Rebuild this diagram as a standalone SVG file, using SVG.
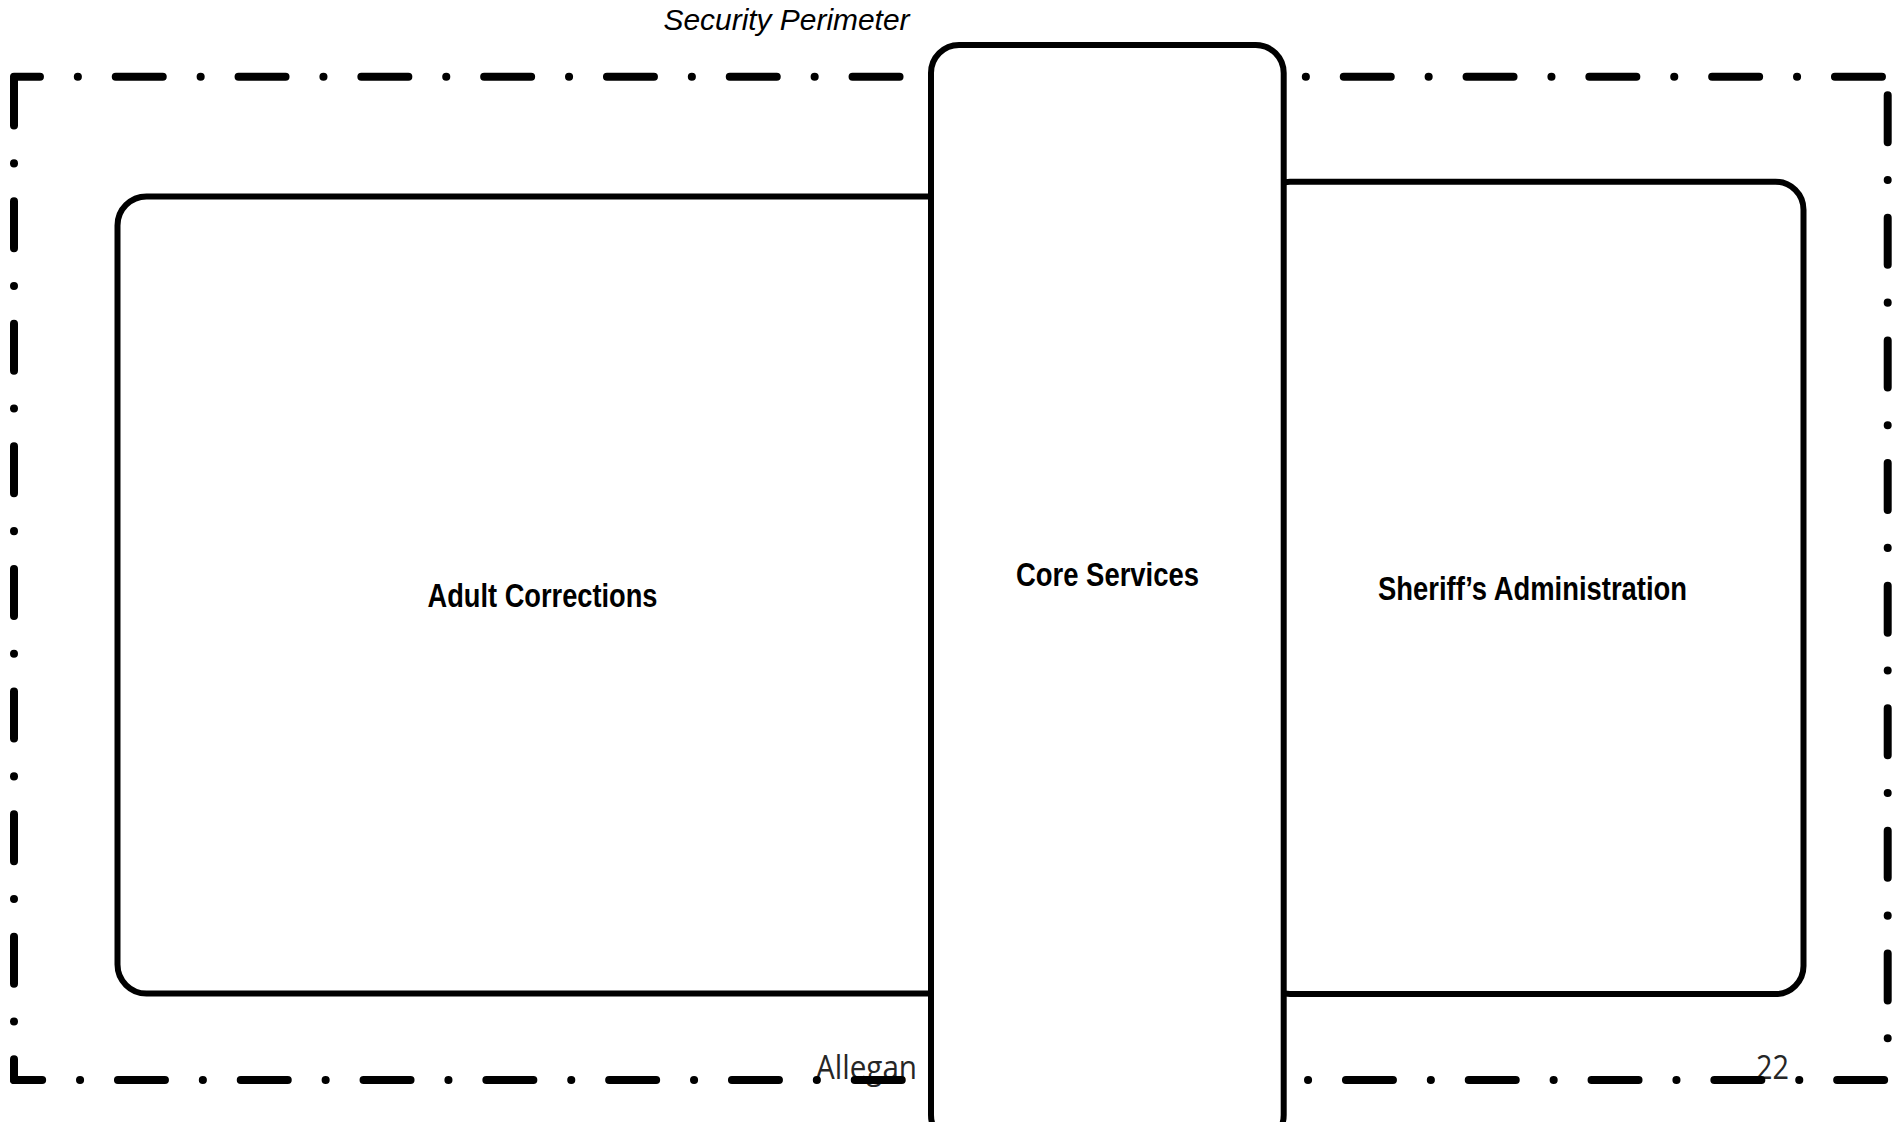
<svg xmlns="http://www.w3.org/2000/svg" width="1899" height="1122" viewBox="0 0 1899 1122">
  <style>
    .bg { fill: #ffffff; }
    .perim { fill: none; stroke: #000000; stroke-width: 8; stroke-linecap: round; }
    .ph { stroke-dasharray: 0.1 37.85 47 37.85; }
    .pv { stroke-dasharray: 0.1 37.75 47 37.75; }
    .box { fill: #ffffff; stroke: #000000; stroke-width: 6; }
    .label { font-family: "Liberation Sans Narrow", "Liberation Sans", Arial, sans-serif; font-weight: bold; font-size: 34px; fill: #000000; }
    .title { font-family: "Liberation Sans", Arial, sans-serif; font-style: italic; font-size: 30px; fill: #000000; }
    .footer { font-family: "Open Sans", "Noto Sans", sans-serif; font-size: 32px; fill: #262626; }
  </style>
  <rect class="bg" x="0" y="0" width="1899" height="1122"/>

  <g id="footer">
    <text class="footer" x="816" y="1079" textLength="101" lengthAdjust="spacingAndGlyphs">Allegan</text>
    <text class="footer" x="1756" y="1079" textLength="33" lengthAdjust="spacingAndGlyphs">22</text>
  </g>

  <g id="security-perimeter">
    <path class="perim ph" d="M14 76.7 H1887.7" stroke-dashoffset="59"/>
    <path class="perim ph" d="M14 1080 H1887.7" stroke-dashoffset="56.8"/>
    <path class="perim pv" d="M14 76.7 V1080" stroke-dashoffset="36"/>
    <path class="perim pv" d="M1887.7 76.7 V1076" stroke-dashoffset="19.3"/>
    <text class="title" x="663.5" y="30" textLength="246" lengthAdjust="spacingAndGlyphs">Security Perimeter</text>
  </g>

  <g id="adult-corrections">
    <rect class="box" x="117.5" y="196.5" width="850.5" height="797" rx="29" ry="29"/>
    <text class="label" x="427.5" y="606.5" textLength="230" lengthAdjust="spacingAndGlyphs">Adult Corrections</text>
  </g>

  <g id="sheriffs-administration">
    <rect class="box" x="1262" y="181.7" width="541.5" height="812.3" rx="28" ry="28"/>
    <text class="label" x="1378" y="599.5" textLength="309" lengthAdjust="spacingAndGlyphs">Sheriff’s Administration</text>
  </g>

  <g id="core-services">
    <rect class="box" x="931" y="45" width="352.7" height="1098" rx="28" ry="28"/>
    <text class="label" x="1016" y="586" textLength="183" lengthAdjust="spacingAndGlyphs">Core Services</text>
  </g>

  <g id="connectors"></g>
</svg>
